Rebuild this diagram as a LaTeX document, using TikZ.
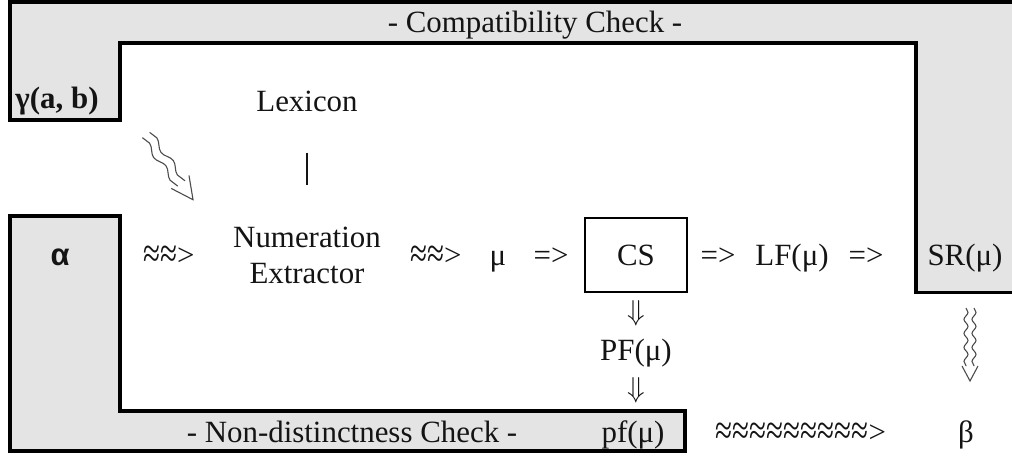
\documentclass[tikz,border=0pt]{standalone}
\usepackage{fontspec}
\usetikzlibrary{decorations.pathmorphing}
\setmainfont{Liberation Serif}
\newfontfamily\altsans{Liberation Sans}
\definecolor{panel}{RGB}{228,228,228}
\definecolor{ink}{RGB}{20,20,20}
% a taller "almost equal" wave for the text arrows
\newcommand{\apx}{\raisebox{-0.09em}{\scalebox{1}[1.35]{≈}}}

\begin{document}
\begin{tikzpicture}[x=0.5pt,y=-0.5pt,
  lbl/.style={inner sep=0pt, anchor=base, text=ink,
              font=\fontsize{15.45}{18}\selectfont},
  frame/.style={line width=1.9pt, draw=black, line join=miter},
  procbox/.style={draw=black, line width=1.2pt, inner sep=0pt,
                  minimum width=51pt, minimum height=37pt, text=ink,
                  font=\fontsize{15.45}{18}\selectfont},
  dnarrow/.style={inner sep=0pt, text=ink, font=\fontsize{13.5}{15}\selectfont},
  wavy/.style={draw=black!70, line width=0.55pt, decorate,
               decoration={snake, amplitude=#1}},
  chevron/.style={draw=black!70, line width=0.55pt, line join=miter}]
\useasboundingbox (0,0) rectangle (1012,456);

% upper panel: compatibility band with its two legs
\fill[panel] (10,2) -- (1012,2) -- (1012,292.5) -- (916,292.5) -- (916,43)
  -- (120,43) -- (120,120) -- (10,120) -- cycle;
\draw[frame] (1013,292.5) -- (916,292.5) -- (916,43) -- (120,43) -- (120,120)
  -- (10,120) -- (10,2) -- (1013,2);

% lower panel: input column and non-distinctness band
\fill[panel] (10,216) -- (120,216) -- (120,411) -- (685,411) -- (685,451)
  -- (10,451) -- cycle;
\draw[frame] (10,216) -- (120,216) -- (120,411) -- (685,411) -- (685,451)
  -- (10,451) -- cycle;

% band titles
\node[lbl] (comp) at (535,32) {- Compatibility Check -};
\node[lbl] (nondist) at (352,442) {- Non-distinctness Check -};

% top-left corner
\node[lbl] (gam) at (57,108) {\bfseries γ(a, b)};
\node[lbl] (lex) at (307,111) {Lexicon};

% main row
\node[lbl] (alpha) at (60,265) {\altsans\bfseries α};
\node[lbl] (arr1) at (169,265) {\apx\apx>};
\node[inner sep=0pt, align=center, text=ink,
      font=\fontsize{15.45}{18}\selectfont] (numx) at (307,255)
      {Numeration\\Extractor};
\node[lbl] (arr2) at (436,265) {\apx\apx>};
\node[lbl] (mu) at (498,265) {μ};
\node[lbl] (imp1) at (551,265) {=>};
\node[procbox] (cs) at (636,255) {CS};
\node[lbl] (imp2) at (718,265) {=>};
\node[lbl] (lf) at (792,265) {LF(μ)};
\node[lbl] (imp3) at (866,265) {=>};
\node[lbl] (sr) at (965,265) {SR(μ)};

% lexicon feeds the extractor
\draw[line width=1.1pt, draw=ink, shorten <=20.5pt, shorten >=20.5pt]
  (lex.south) -- (numx.north);

% phonological branch
\node[dnarrow] (down1) at (636,313) {$\Downarrow$};
\node[lbl] (pf) at (636,360) {PF(μ)};
\node[dnarrow] (down2) at (636,390) {$\Downarrow$};

% bottom row
\node[lbl] (pfl) at (633,442) {pf(μ)};
\node[lbl] (wave) at (801,442) {\apx\apx\apx\apx\apx\apx\apx\apx\apx>};
\node[lbl] (beta) at (966,442) {β};

% squiggly arrow from the input pair towards the extractor
\coordinate (dstart) at (146,135);
\begin{scope}[shift={(dstart)}, rotate=-54]
  \draw[wavy=1.3pt, decoration={segment length=14pt}] (0,-4.5) -- (60,-4.5);
  \draw[wavy=1.3pt, decoration={segment length=14pt}] (0,4.5) -- (60,4.5);
  \draw[chevron] (58,-11) -- (80,0) -- (58,11);
\end{scope}

% squiggly arrow from SR down to the output
\coordinate (vstart) at (970,308);
\begin{scope}[shift={(vstart)}, rotate=-90]
  \draw[wavy=1pt, decoration={segment length=7pt}] (0,-4) -- (58,-4);
  \draw[wavy=1pt, decoration={segment length=7pt}] (0,4) -- (58,4);
  \draw[chevron] (58,-8) -- (73,0) -- (58,8);
\end{scope}
\end{tikzpicture}
\end{document}
